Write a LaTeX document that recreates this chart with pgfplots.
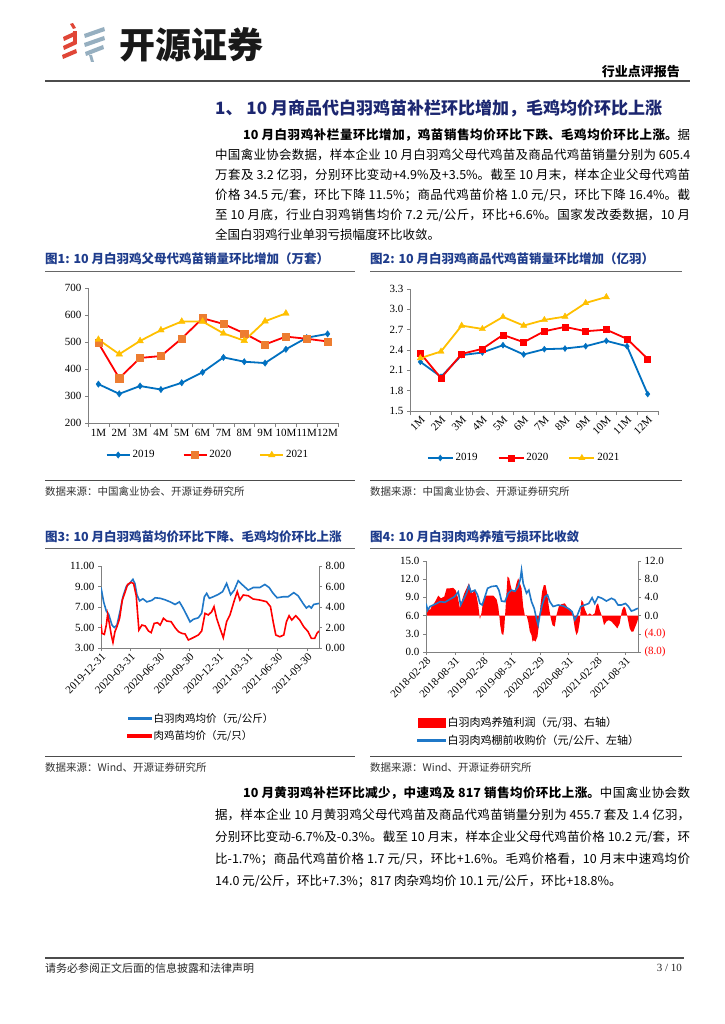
\documentclass[border=0pt]{standalone}
\usepackage{fontspec}
\usepackage{pgfplots}
\pgfplotsset{compat=1.18}
\setmainfont{Noto Sans CJK SC}
\newfontfamily\tnr{Liberation Serif}
\XeTeXlinebreaklocale "zh"
\XeTeXlinebreakskip=0pt plus 3pt
\definecolor{c19}{RGB}{0,112,192}
\definecolor{c20}{RGB}{255,0,0}
\definecolor{c20m}{RGB}{237,125,49}
\definecolor{c21}{RGB}{255,192,0}
\definecolor{lblue}{RGB}{31,120,200}
\definecolor{navy}{RGB}{28,38,112}
\definecolor{tblue}{RGB}{30,60,140}
\definecolor{axgray}{RGB}{128,128,128}
\definecolor{logored}{RGB}{224,70,55}
\definecolor{logoblue}{RGB}{150,175,192}
\pgfplotsset{
 base/.style={scale only axis, tick align=outside, at={(0pt,0pt)}, anchor=south west,
   axis line style={draw=axgray,line width=0.7pt},
   tick style={draw=axgray,line width=0.6pt},
   major tick length=3pt, minor tick length=4pt,
   ticklabel style={font=\tnr\fontsize{11}{11}\selectfont},
   /pgf/number format/assume math mode=true,
   legend cell align=left},
}
\newcommand\jl[4]{\node[anchor=west,inner sep=0] at (#1,-#2) {\parbox{#3pt}{\fontsize{12.5}{15}\selectfont\parindent=0pt\parfillskip=0pt #4\par}};}
\newcommand\nl[3]{\node[anchor=west,inner sep=0] at (#1,-#2) {\fontsize{12.5}{15}\selectfont #3};}
\begin{document}
\begin{tikzpicture}[x=1pt,y=1pt]
\fill[white] (0,0) rectangle (724,-1024);
% ---------- logo
\fill[logored] (70,-24) -- (73,-23) -- (76,-28) -- (73,-29) -- cycle;
\fill[logored] (63,-37) -- (76,-31) -- (77,-35) -- (64,-41) -- cycle;
\fill[logored] (63,-46) -- (76,-40) -- (77,-44) -- (64,-50) -- cycle;
\fill[logored] (62,-55) -- (76,-49) -- (77,-53) -- (63,-59) -- cycle;
\fill[logored] (73,-31) -- (77,-31) -- (77,-44) -- (73,-44) -- cycle;
\fill[logoblue] (84,-34) -- (104,-27) -- (105,-31) -- (85,-38) -- cycle;
\fill[logoblue] (84,-43) -- (104,-36) -- (105,-40) -- (85,-47) -- cycle;
\fill[logoblue] (85,-52) -- (103,-45) -- (104,-49) -- (86,-56) -- cycle;
\fill[logoblue] (89,-55) -- (92,-55) -- (94,-62) -- (91,-62) -- cycle;
\node[anchor=west,inner sep=0,font=\fontsize{36}{36}\selectfont\bfseries,text=black!90] at (119,-45) {开源证券};
\node[anchor=east,inner sep=0,font=\fontsize{13}{14}\selectfont\bfseries] at (680,-72) {行业点评报告};
\draw[line width=1.6pt,black!70] (45,-81) -- (690,-81);
\node[anchor=west,inner sep=0,text=navy,font=\fontsize{17}{20}\selectfont\bfseries] at (215,-108) {1、 10 月商品代白羽鸡苗补栏环比增加，毛鸡均价环比上涨};
% ---------- paragraph 1
\jl{243}{135}{447}{{\bfseries 10 月白羽鸡补栏量环比增加，鸡苗销售均价环比下跌、毛鸡均价环比上涨。}据}
\jl{215}{155}{475}{中国禽业协会数据，样本企业 10 月白羽鸡父母代鸡苗及商品代鸡苗销量分别为 605.4}
\jl{215}{175}{475}{万套及 3.2 亿羽，分别环比变动+4.9\%及+3.5\%。截至 10 月末，样本企业父母代鸡苗}
\jl{215}{195}{475}{价格 34.5 元/套，环比下降 11.5\%；商品代鸡苗价格 1.0 元/只，环比下降 16.4\%。截}
\jl{215}{215}{475}{至 10 月底，行业白羽鸡销售均价 7.2 元/公斤，环比+6.6\%。国家发改委数据，10 月}
\nl{215}{235}{全国白羽鸡行业单羽亏损幅度环比收敛。}
% ---------- chart titles and rules
\node[anchor=west,inner sep=0,text=tblue,font=\fontsize{12.5}{14}\selectfont\bfseries] at (45,-259) {图1: 10 月白羽鸡父母代鸡苗销量环比增加（万套）};
\node[anchor=west,inner sep=0,text=tblue,font=\fontsize{12.5}{14}\selectfont\bfseries] at (370,-259) {图2: 10 月白羽鸡商品代鸡苗销量环比增加（亿羽）};
\draw[line width=0.8pt,black!60] (45,-271) -- (355,-271);
\draw[line width=0.8pt,black!60] (370,-271) -- (682,-271);
\draw[line width=1pt,black!70] (45,-480) -- (355,-480);
\draw[line width=1pt,black!70] (370,-480) -- (682,-480);
\node[anchor=west,inner sep=0,text=black!80,font=\fontsize{10.5}{12}\selectfont] at (45,-491) {数据来源：中国禽业协会、开源证券研究所};
\node[anchor=west,inner sep=0,text=black!80,font=\fontsize{10.5}{12}\selectfont] at (370,-491) {数据来源：中国禽业协会、开源证券研究所};
\node[anchor=west,inner sep=0,text=tblue,font=\fontsize{12.5}{14}\selectfont\bfseries] at (45,-537) {图3: 10 月白羽鸡苗均价环比下降、毛鸡均价环比上涨};
\node[anchor=west,inner sep=0,text=tblue,font=\fontsize{12.5}{14}\selectfont\bfseries] at (370,-537) {图4: 10 月白羽肉鸡养殖亏损环比收敛};
\draw[line width=0.8pt,black!60] (45,-548) -- (355,-548);
\draw[line width=0.8pt,black!60] (370,-548) -- (682,-548);
\draw[line width=1pt,black!70] (45,-756) -- (355,-756);
\draw[line width=1pt,black!70] (370,-756) -- (682,-756);
\node[anchor=west,inner sep=0,text=black!80,font=\fontsize{10.5}{12}\selectfont] at (45,-767) {数据来源：Wind、开源证券研究所};
\node[anchor=west,inner sep=0,text=black!80,font=\fontsize{10.5}{12}\selectfont] at (370,-767) {数据来源：Wind、开源证券研究所};
% ---------- chart 1
\begin{scope}[shift={(88pt,-423pt)}]
\begin{axis}[base, width=250pt, height=135pt,
 xmin=-0.5, xmax=11.5, ymin=200, ymax=700, ytick={200,300,400,500,600,700},
 xtick={0,...,11}, xticklabels={1M,2M,3M,4M,5M,6M,7M,8M,9M,10M,11M,12M},
 minor xtick={-0.5,0.5,...,11.5}, major x tick style={draw=none},
 axis x line*=bottom, axis y line*=left,
 legend columns=3,
 legend style={draw=none, fill=none, at={(0.48,-0.237)}, anchor=center, font=\tnr\fontsize{11}{11}\selectfont, /tikz/every even column/.append style={column sep=26pt}},
 legend image code/.code={\draw[mark repeat=2,mark phase=2,#1] plot coordinates {(0pt,0pt) (11.5pt,0pt) (23pt,0pt)};}]
\addplot[c19, line width=1.8pt, mark=diamond*, mark size=3.2pt, mark options={fill=c19,draw=c19,line width=0.4pt}] coordinates {(0,344) (1,308) (2,337) (3,324) (4,349) (5,388) (6,443) (7,427) (8,422) (9,473) (10,516) (11,530)};
\addlegendentry{2019}
\addplot[c20, line width=1.8pt, mark=square*, mark size=3.6pt, mark options={fill=c20m,draw=c20m,line width=0.4pt}] coordinates {(0,496) (1,366) (2,441) (3,448) (4,513) (5,588) (6,567) (7,532) (8,491) (9,520) (10,512) (11,502)};
\addlegendentry{2020}
\addplot[c21, line width=1.8pt, mark=triangle*, mark size=3.8pt, mark options={fill=c21,draw=c21,line width=0.4pt}] coordinates {(0,509) (1,455) (2,504) (3,544) (4,576) (5,576) (6,532) (7,505) (8,577) (9,606)};
\addlegendentry{2021}
\end{axis}
\end{scope}
% ---------- chart 2
\begin{scope}[shift={(410pt,-411pt)}]
\begin{axis}[base, width=248pt, height=122pt,
 xmin=-0.5, xmax=11.5, ymin=1.5, ymax=3.3, ytick={1.5,1.8,2.1,2.4,2.7,3.0,3.3},
 yticklabel style={/pgf/number format/.cd,fixed,fixed zerofill,precision=1},
 xtick={0,...,11}, xticklabels={1M,2M,3M,4M,5M,6M,7M,8M,9M,10M,11M,12M},
 xticklabel style={rotate=45, anchor=north east, inner sep=1pt},
 minor xtick={-0.5,0.5,...,11.5}, major x tick style={draw=none},
 axis x line*=bottom, axis y line*=left,
 legend columns=3,
 legend style={draw=none, fill=none, at={(0.46,-0.385)}, anchor=center, font=\tnr\fontsize{11}{11}\selectfont, /tikz/every even column/.append style={column sep=18pt}},
 legend image code/.code={\draw[mark repeat=2,mark phase=2,#1] plot coordinates {(0pt,0pt) (12.5pt,0pt) (25pt,0pt)};}]
\addplot[c19, line width=1.8pt, mark=diamond*, mark size=3pt, mark options={fill=c19,draw=c19,line width=0.4pt}] coordinates {(0,2.226) (1,2.005) (2,2.324) (3,2.363) (4,2.471) (5,2.334) (6,2.412) (7,2.422) (8,2.456) (9,2.535) (10,2.456) (11,1.75)};
\addlegendentry{2019}
\addplot[c20, line width=1.8pt, mark=square*, mark size=3pt, mark options={fill=c20,draw=c20,line width=0.4pt}] coordinates {(0,2.353) (1,1.985) (2,2.343) (3,2.417) (4,2.623) (5,2.515) (6,2.677) (7,2.741) (8,2.677) (9,2.70) (10,2.564) (11,2.27)};
\addlegendentry{2020}
\addplot[c21, line width=1.8pt, mark=triangle*, mark size=3.6pt, mark options={fill=c21,draw=c21,line width=0.4pt}] coordinates {(0,2.28) (1,2.378) (2,2.76) (3,2.711) (4,2.888) (5,2.76) (6,2.844) (7,2.893) (8,3.094) (9,3.182)};
\addlegendentry{2021}
\end{axis}
\end{scope}
% ---------- chart 3
\begin{scope}[shift={(101pt,-648pt)}]
\begin{axis}[base, width=218pt, height=82pt,
 xmin=0, xmax=656, ymin=3, ymax=11, ytick={3,5,7,9,11},
 yticklabel style={/pgf/number format/.cd,fixed,fixed zerofill,precision=2},
 xtick={0,89,177,266,355,443,532,621},
 xticklabels={2019-12-31,2020-03-31,2020-06-30,2020-09-30,2020-12-31,2021-03-31,2021-06-30,2021-09-30},
 xticklabel style={rotate=45, anchor=north east, inner sep=1pt},
 axis x line*=bottom, axis y line*=left]
\addplot[lblue, line width=1.6pt] coordinates {(0,8.9) (8,7.5) (16,6.6) (23,6.3) (33,5.24) (40,5.0) (48,5.24) (58,6.7) (66,8.0) (76,9.0) (86,9.3) (96,9.7) (102,9.3) (108,8.2) (116,7.6) (126,7.8) (138,7.5) (153,7.65) (163,7.9) (178,7.85) (193,7.7) (208,7.5) (223,7.25) (236,7.5) (246,6.95) (258,6.2) (268,5.55) (278,5.8) (293,5.95) (303,6.4) (311,8.0) (318,8.33) (326,7.85) (338,8.0) (353,8.23) (366,8.5) (378,9.3) (390,8.2) (401,8.65) (413,9.57) (426,9.15) (443,8.65) (458,8.9) (478,8.9) (493,9.2) (506,8.9) (518,8.33) (530,7.9) (548,8.0) (563,8.0) (580,8.4) (593,8.1) (608,7.35) (618,6.9) (626,7.1) (633,6.9) (640,7.25) (656,7.35)};
\end{axis}
\begin{axis}[base, width=218pt, height=82pt,
 xmin=0, xmax=656, ymin=0, ymax=8, ytick={0,2,4,6,8},
 yticklabel style={/pgf/number format/.cd,fixed,fixed zerofill,precision=2},
 axis x line=none, axis y line*=right,
 legend style={draw=none, fill=none, at={(0.105,-0.744)}, anchor=north west, font=\fontsize{10.5}{12}\selectfont, row sep=3pt}]
\addlegendimage{legend image code/.code={\fill[lblue] (0pt,-0.9pt) rectangle (23pt,0.9pt);}}
\addlegendentry{白羽肉鸡均价（元/公斤）}
\addplot[c20, line width=1.6pt, legend image code/.code={\fill[c20] (0pt,-0.9pt) rectangle (23pt,0.9pt);}] coordinates {(0,2.3) (3,1.43) (10,1.33) (16,2.24) (20,3.28) (26,2.24) (31,1.27) (36,0.55) (42,1.6) (48,2.08) (56,2.9) (64,4.68) (73,5.5) (80,6.2) (90,6.4) (98,6.3) (106,5.1) (114,1.76) (123,2.24) (133,2.15) (143,1.66) (151,1.5) (160,2.4) (170,2.47) (178,2.24) (188,2.9) (198,2.63) (211,2.57) (223,1.98) (233,1.6) (243,1.43) (253,1.37) (263,0.78) (273,0.94) (283,1.1) (293,1.27) (303,1.66) (313,3.38) (323,3.22) (333,3.54) (340,4.03) (348,2.9) (358,1.92) (368,1.01) (378,2.57) (388,3.22) (400,4.52) (410,5.5) (418,4.68) (428,5.17) (443,5.1) (458,4.78) (478,4.68) (498,4.52) (510,4.03) (518,2.57) (526,1.27) (538,1.1) (550,1.27) (558,2.57) (566,3.15) (574,2.73) (586,3.15) (598,2.73) (610,2.08) (623,1.6) (633,0.94) (643,0.94) (650,1.43) (656,1.66)};
\addlegendentry{肉鸡苗均价（元/只）}
\end{axis}
\end{scope}
% ---------- chart 4
\begin{scope}[shift={(426pt,-652pt)}]
\begin{axis}[base, width=212pt, height=91pt,
 xmin=0, xmax=637, ymin=-8, ymax=12, ytick={-8,-4,0,4,8,12},
 yticklabels={{\textcolor{red}{(8.0)}},{\textcolor{red}{(4.0)}},0.0,4.0,8.0,12.0},
 xtick={0,87,172,257,342,429,515,600},
 xticklabels={2018-02-28,2018-08-31,2019-02-28,2019-08-31,2020-02-29,2020-08-31,2021-02-28,2021-08-31},
 xticklabel style={rotate=45, anchor=north east, inner sep=1pt},
 axis x line*=bottom, axis y line*=right]
\addplot[fill=red, draw=none] coordinates {(0,0) (0,3.0) (3,0.5) (7,1.6) (12,1.2) (17,2.0) (27,3.0) (37,4.4) (45,3.8) (55,4.2) (62,6.0) (72,6.0) (82,6.1) (89,5.6) (95,4.2) (102,1.6) (107,3.1) (115,4.9) (122,6.0) (129,7.1) (135,5.6) (139,4.9) (147,5.6) (152,4.2) (157,2.3) (162,-0.8) (167,0.7) (172,3.4) (179,4.4) (189,4.4) (202,4.4) (212,3.6) (217,2.0) (220,0.2) (223,-2.1) (227,-3.9) (232,-4.3) (235,-2.8) (239,1.6) (245,8.6) (250,8.2) (254,6.7) (259,5.3) (267,5.6) (272,7.1) (277,8.2) (282,7.1) (287,6.0) (292,2.0) (297,0) (302,0.1) (307,-1.3) (312,-3.5) (317,-4.3) (320,-5.7) (324,-5.4) (329,-5.7) (335,-4.6) (339,-2.1) (344,2.3) (349,5.3) (354,6.7) (359,6.7) (364,4.9) (369,2.0) (375,-0.6) (380,-2.1) (387,-2.4) (392,0.1) (399,2.0) (407,2.5) (417,2.7) (427,1.6) (435,1.4) (442,-0.2) (447,-2.8) (452,-4.3) (457,-3.5) (462,-1.3) (467,3.4) (472,3.0) (477,1.4) (485,0.1) (492,0.5) (499,0.1) (507,0.5) (512,2.3) (517,2.7) (522,1.2) (529,-0.2) (535,-2.1) (542,-1.3) (549,-1.0) (557,-1.3) (567,-2.1) (575,-2.8) (582,-1.7) (589,1.2) (595,2.0) (599,1.6) (605,-0.2) (612,-2.8) (617,-3.5) (623,-3.5) (629,-2.4) (635,-1.3) (637,-0.7) (637,0)} -- cycle;
\end{axis}
\begin{axis}[base, width=212pt, height=91pt,
 xmin=0, xmax=637, ymin=0, ymax=15, ytick={0,3,6,9,12,15},
 yticklabel style={/pgf/number format/.cd,fixed,fixed zerofill,precision=1},
 axis x line=none, axis y line*=left,
 legend style={draw=none, fill=none, at={(-0.057,-0.67)}, anchor=north west, font=\fontsize{11}{12}\selectfont, row sep=3pt}]
\addlegendimage{legend image code/.code={\fill[red] (0pt,-4.5pt) rectangle (27pt,4.5pt);}}
\addlegendentry{白羽肉鸡养殖利润（元/羽、右轴）}
\addplot[lblue, line width=1.6pt, legend image code/.code={\fill[lblue] (0pt,-0.9pt) rectangle (27pt,0.9pt);}] coordinates {(0,8.0) (5,6.9) (12,7.5) (22,7.75) (32,8.0) (42,8.3) (57,8.2) (72,8.7) (85,9.1) (97,9.9) (104,7.75) (112,8.6) (122,9.7) (129,10.9) (135,9.9) (147,10.2) (155,9.4) (162,8.0) (169,7.75) (177,9.1) (185,10.5) (197,10.8) (212,10.9) (219,10.2) (227,8.4) (237,8.3) (247,9.7) (257,10.2) (267,10.0) (277,10.8) (283,11.9) (287,13.5) (292,11.3) (302,9.7) (309,10.2) (317,8.3) (325,7.2) (332,5.5) (337,4.45) (342,6.1) (349,7.75) (357,9.1) (365,9.4) (372,8.3) (382,7.5) (397,7.75) (412,7.6) (427,7.2) (439,6.65) (447,5.3) (455,6.1) (465,7.5) (477,7.75) (489,8.0) (499,8.95) (507,8.0) (517,9.1) (529,8.85) (542,8.4) (557,8.85) (567,8.6) (577,7.75) (587,7.75) (599,8.0) (607,7.6) (617,6.75) (625,6.9) (632,7.1) (637,7.2)};
\addlegendentry{白羽肉鸡棚前收购价（元/公斤、左轴）}
\end{axis}
\end{scope}
% ---------- paragraph 2
\jl{243}{793}{447}{{\bfseries 10 月黄羽鸡补栏环比减少，中速鸡及 817 销售均价环比上涨。}中国禽业协会数}
\jl{215}{815}{475}{据，样本企业 10 月黄羽鸡父母代鸡苗及商品代鸡苗销量分别为 455.7 套及 1.4 亿羽，}
\jl{215}{837}{475}{分别环比变动-6.7\%及-0.3\%。截至 10 月末，样本企业父母代鸡苗价格 10.2 元/套，环}
\jl{215}{859}{475}{比-1.7\%；商品代鸡苗价格 1.7 元/只，环比+1.6\%。毛鸡价格看，10 月末中速鸡均价}
\nl{215}{881}{14.0 元/公斤，环比+7.3\%；817 肉杂鸡均价 10.1 元/公斤，环比+18.8\%。}
% ---------- footer
\draw[line width=1.4pt,black!70] (45,-958) -- (684,-958);
\node[anchor=west,inner sep=0,text=black!85,font=\fontsize{11}{12}\selectfont] at (45,-968) {请务必参阅正文后面的信息披露和法律声明};
\node[anchor=east,inner sep=0,text=black!85,font=\tnr\fontsize{11}{12}\selectfont] at (682,-968) {3 / 10};
\end{tikzpicture}
\end{document}
